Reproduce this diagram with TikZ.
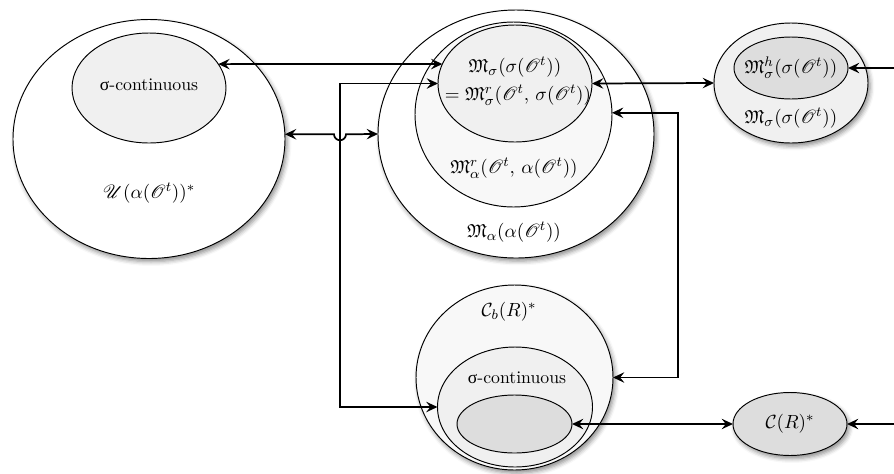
\documentclass[tikz,border=0pt]{standalone}
\usepackage{fontspec}
\usepackage{amssymb}
\usepackage{mathrsfs}
\newfontfamily\grkfont{Liberation Serif}
\usetikzlibrary{shapes.geometric,arrows.meta,shadows.blur}
\definecolor{fillA}{RGB}{240,240,240}
\definecolor{fillB}{RGB}{248,248,248}
\definecolor{fillC}{RGB}{221,221,221}
\begin{document}
\begin{tikzpicture}[x=0.575pt,y=-0.575pt,
  setshape/.style={ellipse, draw=black, line width=0.55pt, inner sep=0pt, outer sep=0pt},
  esize/.style 2 args={minimum width={#1*0.575pt}, minimum height={#2*0.575pt}},
  shadowed/.style={blur shadow={shadow xshift=1.2pt, shadow yshift=-1.8pt, shadow blur radius=2.5pt, shadow opacity=45}},
  tip/.tip={Stealth[length=6.5pt,width=6pt,inset=2.4pt]},
  darr/.style={line width=1pt, tip-tip},
  larr/.style={line width=1pt, tip-},
  lbl/.style={inner sep=0.5pt, font=\fontsize{10.2}{12}\selectfont},
  mlbl/.style={inner sep=0.5pt, font=\fontsize{10.8}{13}\selectfont}
]
\useasboundingbox (0,0) rectangle (894,473);
% left set
\node[setshape, shadowed, fill=white, esize={272}{239}] (L) at (149,139) {};
\node[setshape, fill=fillA, esize={154}{110}] (Lin) at (149,88) {};
% middle set
\node[setshape, shadowed, fill=white, esize={276}{248}] (M) at (516,134) {};
\node[setshape, fill=fillB, esize={197}{185}] (Mr) at (513.5,114.5) {};
\node[setshape, fill=fillA, esize={154}{117}] (Ms) at (515,83.5) {};
% right set
\node[setshape, shadowed, fill=fillA, esize={154}{120}] (R) at (791,83) {};
\node[setshape, fill=fillC, esize={114}{62}] (Rh) at (791,68) {};
% bottom set
\node[setshape, shadowed, fill=fillB, esize={197}{185}] (B) at (514.5,377.5) {};
\node[setshape, fill=fillA, esize={155}{120}] (Bs) at (515,407) {};
\node[setshape, fill=fillC, esize={115}{58}] (Bg) at (514.5,424) {};
% C(R)*
\node[setshape, shadowed, fill=fillC, esize={114}{63}] (C) at (790,424) {};

% helper coordinates
\coordinate (jl) at (340,250);
\coordinate (jr) at (678,250);
\coordinate (rb) at (910,0);
\coordinate (hl) at (334,0);

% connectors
\draw[darr] (Lin.19) -- (Ms.165);
\draw[darr] (Ms.west) -| (jl) |- (Bs.west);
\draw[darr] (L.2) -- (L.2 -| hl) arc[start angle=180, end angle=0, radius=6] -- (M.west);
\draw[darr] (Ms.east) -- (R.west);
\draw[larr] (Rh.east) -- (Rh.east -| rb);
\draw[darr] (Mr.1) -| (jr) |- (B.east);
\draw[darr] (Bg.east) -- (C.west);
\draw[larr] (C.east) -- (C.east -| rb);

% labels
\node[lbl] (tLin) at (149,85) {{\grkfont σ}-continuous};
\node[mlbl] (tL) at (149,193) {$\mathscr{U}(\alpha(\mathscr{O}^t))^*$};
\node[mlbl] (tMs1) at (515,67) {$\mathfrak{M}_\sigma(\sigma(\mathscr{O}^t))$};
\node[mlbl] (tMs2) at (518,95) {$=\mathfrak{M}^r_\sigma(\mathscr{O}^t,\,\sigma(\mathscr{O}^t))$};
\node[mlbl] (tMr) at (514,168) {$\mathfrak{M}^r_\alpha(\mathscr{O}^t,\,\alpha(\mathscr{O}^t))$};
\node[mlbl] (tM) at (514,232) {$\mathfrak{M}_\alpha(\alpha(\mathscr{O}^t))$};
\node[mlbl] (tRh) at (791,68) {$\mathfrak{M}^h_\sigma(\sigma(\mathscr{O}^t))$};
\node[mlbl] (tR) at (791,118) {$\mathfrak{M}_\sigma(\sigma(\mathscr{O}^t))$};
\node[mlbl] (tB) at (509,312) {$\mathcal{C}_b(R)^*$};
\node[lbl] (tBs) at (517,378) {{\grkfont σ}-continuous};
\node[mlbl] (tC) at (790,424) {$\mathcal{C}(R)^*$};
\end{tikzpicture}
\end{document}
